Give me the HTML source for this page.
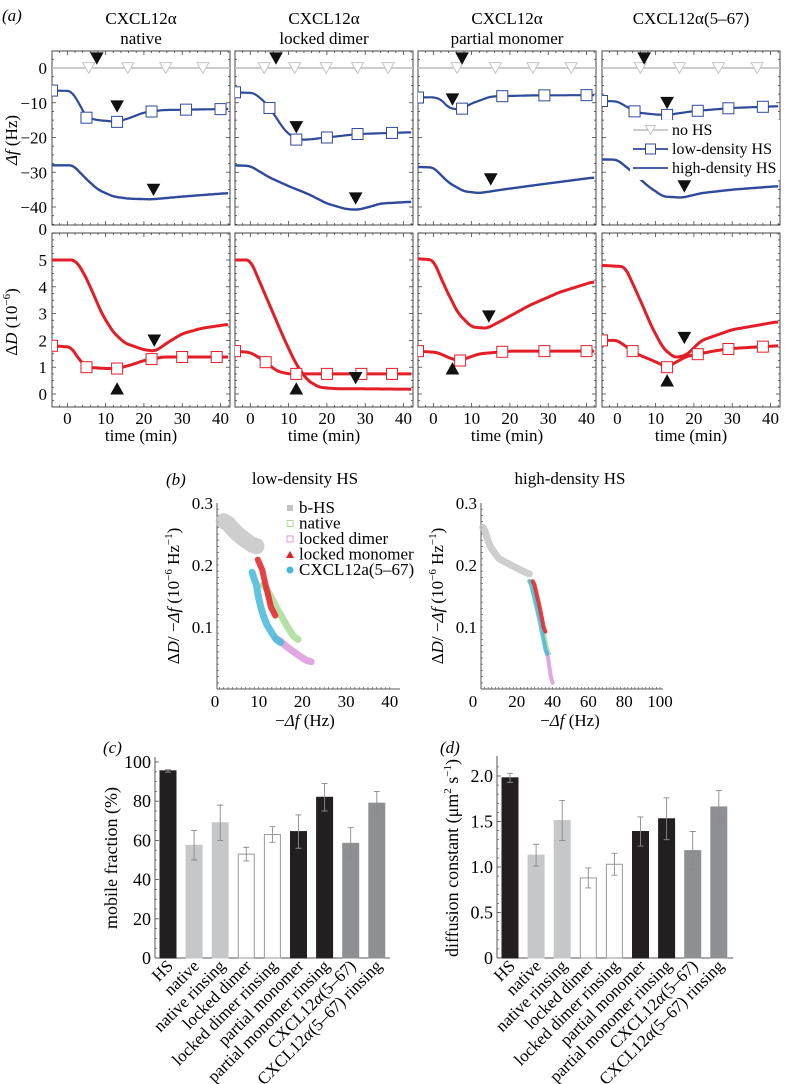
<!DOCTYPE html>
<html><head><meta charset="utf-8">
<style>
html,body{margin:0;padding:0;background:#fff;}
svg{display:block;font-family:"Liberation Serif",serif;}
</style></head>
<body>
<svg id="fig" width="786" height="1084" viewBox="0 0 786 1084" xmlns="http://www.w3.org/2000/svg"></svg>
<script>
// ---------- Panel (a) data ----------
const aTitles = [["CXCL12α","native"],["CXCL12α","locked dimer"],["CXCL12α","partial monomer"],["CXCL12α(5–67)",""]];
const aTimeTicks = [0,10,20,30,40];
const dfTicks = [0,-10,-20,-30,-40];
const dTicks = [0,1,2,3,4,5];
const noHSMarkT = [[5.6,15.8,25.7,35.4],[3.6,11.6,19.8,28,36],[6.2,16.2,26,36],[6,16.2,26.4,36.5]];
const noHSArrowT = [7.7,6.7,7.5,7];
const lowDF = [
 [[-4,-6.5],[1,-6.6],[3,-10],[5,-14.3],[8,-15],[13,-15.5],[16,-14.5],[20,-12.8],[25,-12.1],[30,-12],[42,-11.8]],
 [[-4,-7],[1,-7.2],[4,-10],[6,-13],[9,-18],[12,-20.6],[15,-20.6],[20,-20],[28,-19],[42,-18.5]],
 [[-4,-8.5],[0,-8.4],[2,-9],[4,-11.5],[7,-12],[10,-10.2],[15,-8.2],[25,-7.9],[42,-7.8]],
 [[-4,-9.5],[0,-9.6],[3,-11.5],[5,-12.8],[10,-13.4],[13,-13.5],[20,-12.4],[30,-11.5],[42,-11]]];
const lowDFMarkT = [[-4,5,13,22,31,40],[-4,5,12,20,28,37],[-4,7.5,18,29,40],[-4,4.5,13,21,29,38]];
const lowDFArrow = [[13,-11],[12,-17],[5,-9],[13,-10]];
const highDF = [
 [[-4,-28],[1.5,-28],[5,-32],[8,-35],[12,-37],[16,-37.6],[22,-37.8],[30,-37],[42,-36]],
 [[-4,-28],[0,-28.2],[5,-31.5],[10,-34],[15,-36.2],[20,-39],[25,-40.6],[28,-40.8],[31,-40],[34,-39],[42,-38.5]],
 [[-4,-28.5],[0,-28.6],[4,-33],[8,-35.5],[12,-36],[18,-35],[28,-33.5],[42,-31.5]],
 [[-4,-26.3],[0,-26.4],[4,-30],[8,-34],[12,-37],[17,-37.3],[22,-36],[30,-35],[42,-34]]];
const highDFArrow = [[22.5,-35],[27.5,-37.5],[15,-32],[17.5,-34]];
const highD = [
 [[-4,5],[2,5],[4,4.6],[6,4],[9,3],[12,2.3],[15,1.9],[20,1.65],[23,1.6],[26,1.9],[30,2.25],[35,2.45],[42,2.6]],
 [[-4,5],[0,5],[3,4],[6,3],[9,2],[12,1.1],[15,0.5],[18,0.25],[22,0.2],[42,0.18]],
 [[-4,5.05],[0,5],[3,4],[6.5,3],[10,2.5],[14,2.45],[18,2.75],[25,3.3],[33,3.8],[42,4.2]],
 [[-4,4.8],[2,4.75],[6,3.5],[9,2.5],[12,1.7],[15,1.35],[18,1.45],[22,2],[30,2.4],[42,2.7]]];
const lowD = [
 [[-4,1.8],[1,1.75],[3,1.3],[5,1.0],[10,0.95],[13,0.95],[17,1.1],[20,1.25],[25,1.38],[42,1.38]],
 [[-4,1.6],[0,1.55],[3,1.3],[7,0.85],[10,0.75],[42,0.75]],
 [[-4,1.6],[1,1.55],[5,1.3],[7,1.25],[12,1.5],[20,1.6],[42,1.6]],
 [[-4,2.0],[0,2.0],[5,1.5],[10,1.2],[13,1.0],[18,1.4],[25,1.6],[30,1.7],[42,1.8]]];
const lowDMarkT = [[-4,5,13,22,30,39],[-4,4,12,20,29,37],[-4,7,18,29,40],[-4,4,13,21,29,38]];
const dUpArrow = [[13,0.2],[12,0.2],[5,0.95],[13,0.5]];
const dDownArrow = [[22.7,2.0],[27.5,0.6],[14.5,2.9],[17.5,2.1]];
const legendA = ["no HS","low-density HS","high-density HS"];

// ---------- Panel (b) data ----------
const bLegend = ["b-HS","native","locked dimer","locked monomer","CXCL12a(5–67)"];
const bColors = ["#c2c2c2","#a8dc96","#dc98dc","#e41e26","#45b9d9"];
const bLeftX = [0,10,20,30,40];
const bRightX = [0,20,40,60,80,100];
const bYTicks = [0.1,0.2,0.3];
const bLeftSeries = [
 [[2,0.275],[4,0.258],[6,0.245],[8,0.235],[9.5,0.228]],
 [[11,0.175],[13,0.145],[15,0.12],[17,0.095],[19,0.075]],
 [[14,0.085],[16,0.07],[18,0.06],[20,0.05],[22,0.042]],
 [[9.8,0.228],[10.5,0.2],[11.5,0.17],[12.5,0.14],[13.8,0.105]],
 [[8.5,0.225],[9,0.18],[10,0.145],[11,0.115],[13,0.09],[15,0.07]]];
const bRightSeries = [
 [[1,0.265],[5,0.23],[10,0.21],[20,0.195],[27,0.185]],
 [[28,0.18],[33,0.12],[38,0.05]],
 [[36.5,0.07],[38.5,0.03],[40,0.0]],
 [[29,0.18],[33,0.13],[36,0.085]],
 [[27,0.18],[32,0.12],[37,0.05]]];
const bBandW = [[16,7,7,6,7],[7,4,4,4,4]];

// ---------- Panel (c)/(d) data ----------
const barCats = ["HS","native","native rinsing","locked dimer","locked dimer rinsing","partial monomer","partial monomer rinsing","CXCL12α(5–67)","CXCL12α(5–67) rinsing"];
const barFill = ["#231f20","#c6c7c9","#c6c7c9","#ffffff","#ffffff","#231f20","#231f20","#8e8f92","#8e8f92"];
const mobileVals = [95.5,57.5,69,53,63,64.5,82,58.5,79];
const mobileErr = [0.7,7.5,9,3.5,4,8.5,7,8,6];
const mobileTicks = [0,20,40,60,80,100];
const diffVals = [1.98,1.13,1.51,0.88,1.03,1.39,1.53,1.18,1.66];
const diffErr = [0.05,0.12,0.22,0.11,0.12,0.16,0.23,0.21,0.18];
const diffTicks = [0,0.5,1.0,1.5,2.0];
const diffTickLabels = ["0","0.5","1.0","1.5","2.0"];

// ---------- helpers ----------
const NS="http://www.w3.org/2000/svg";
const svg=document.getElementById('fig');
function mk(tag, attrs, parent){const e=document.createElementNS(NS,tag);for(const k in attrs)e.setAttribute(k,attrs[k]);(parent||svg).appendChild(e);return e;}
function txt(s, attrs, parent){const e=mk('text',attrs,parent);e.textContent=s;return e;}
function path(pts){return pts.map((p,i)=>(i?'L':'M')+p[0].toFixed(1)+' '+p[1].toFixed(1)).join(' ');}
function interp(series,t){for(let i=1;i<series.length;i++){if(t<=series[i][0]){const a=series[i-1],b=series[i];return a[1]+(b[1]-a[1])*(t-a[0])/(b[0]-a[0]);}}return series[series.length-1][1];}
function smooth(series){const out=[];const t0=series[0][0],t1=series[series.length-1][0];for(let t=t0;t<=t1+1e-6;t+=0.25){out.push([t,interp(series,t)]);}
 const o2=out.map((p,i)=>{let s=0,n=0;for(let j=i-4;j<=i+4;j++){if(j>=0&&j<out.length){s+=out[j][1];n++;}}return [p[0],s/n];});return o2;}

const BLUE="#2e4a9b", RED="#e41e26", GRAY="#c4c4c4";
const FS=17;

// ---------- Panel (a) ----------
const aLeft=[52,235,418,602], aW=178;
const topY0=51, topY1=225, botY0=233, botY1=407;
function xA(i,t){return aLeft[i]+(t+4)*3.83;}
function yTopF(v){return 68-v*3.475;}
function yBotF(v){return 394-v*26.8;}
{const e=txt("(a)",{x:2,y:21,'font-size':FS,'font-style':'italic'});
 
 }

function triDown(g,x,y,s,fill,stroke){return mk('polygon',{points:`${x-s},${y-s*0.9} ${x+s},${y-s*0.9} ${x},${y+s*0.9}`,fill:fill,stroke:stroke,'stroke-width':1},g);}
function triUp(g,x,y,s,fill,stroke){return mk('polygon',{points:`${x-s},${y+s*0.9} ${x+s},${y+s*0.9} ${x},${y-s*0.9}`,fill:fill,stroke:stroke,'stroke-width':1},g);}

for(let i=0;i<4;i++){
 const g=mk('g',{});
 
 
 const cx=aLeft[i]+aW/2;
 const t1=txt(aTitles[i][0],{x:cx,y:24,'text-anchor':'middle','font-size':FS},g);
 
 
 if(aTitles[i][1]){const t2=txt(aTitles[i][1],{x:cx,y:44,'text-anchor':'middle','font-size':FS},g);
  
  }
 const clipT=mk('clipPath',{id:'ct'+i},g);mk('rect',{x:aLeft[i],y:topY0,width:aW,height:topY1-topY0},clipT);
 const clipB=mk('clipPath',{id:'cb'+i},g);mk('rect',{x:aLeft[i],y:botY0,width:aW,height:botY1-botY0},clipB);
 for(const [y0,y1,nm] of [[topY0,topY1,'df-frame'],[botY0,botY1,'dd-frame']]){
  const fr=mk('rect',{x:aLeft[i],y:y0,width:aW,height:y1-y0,fill:'none',stroke:'#444','stroke-width':1},g);
  
  
  for(let t=-4;t<=42;t+=2){const x=xA(i,t);const L=(t%10===0)?4:2;
   mk('line',{x1:x,y1:y0,x2:x,y2:y0+L,stroke:'#444','stroke-width':0.8},g);
   mk('line',{x1:x,y1:y1,x2:x,y2:y1-L,stroke:'#444','stroke-width':0.8},g);}
 }
 for(let v=-45;v<=5;v+=2.5){const y=yTopF(v);if(y<topY0||y>topY1)continue;const L=(v%10===0)?4:2;
  mk('line',{x1:aLeft[i],y1:y,x2:aLeft[i]+L,y2:y,stroke:'#444','stroke-width':0.8},g);
  mk('line',{x1:aLeft[i]+aW,y1:y,x2:aLeft[i]+aW-L,y2:y,stroke:'#444','stroke-width':0.8},g);}
 for(let v=-0.5;v<=6;v+=0.25){const y=yBotF(v);if(y<botY0||y>botY1)continue;const L=(Math.abs(v-Math.round(v))<1e-6)?4:2;
  mk('line',{x1:aLeft[i],y1:y,x2:aLeft[i]+L,y2:y,stroke:'#444','stroke-width':0.8},g);
  mk('line',{x1:aLeft[i]+aW,y1:y,x2:aLeft[i]+aW-L,y2:y,stroke:'#444','stroke-width':0.8},g);}
 aTimeTicks.forEach(t=>{const e=txt(String(t),{x:xA(i,t),y:424,'text-anchor':'middle','font-size':FS},g);
  
  });
 const xl=txt("time (min)",{x:cx,y:441,'text-anchor':'middle','font-size':FS},g);
 
 

 const gt=mk('g',{'clip-path':`url(#ct${i})`},g);
 const noHS=mk('line',{x1:aLeft[i],y1:yTopF(0),x2:aLeft[i]+aW,y2:yTopF(0),stroke:GRAY,'stroke-width':1.8},gt);
 
 
 noHSMarkT[i].forEach(t=>{const m=triDown(gt,xA(i,t),yTopF(0),6,'#fff',GRAY);
  
  });
 const lp=mk('path',{d:path(smooth(lowDF[i]).map(p=>[xA(i,p[0]),yTopF(p[1])])),fill:'none',stroke:BLUE,'stroke-width':2.2,'stroke-linejoin':'round'},gt);
 
 
 lowDFMarkT[i].forEach(t=>{const m=mk('rect',{x:xA(i,t)-5.5,y:yTopF(interp(lowDF[i],t))-5.5,width:11,height:11,fill:'#fff',stroke:BLUE,'stroke-width':1},gt);
  
  });
 const hp=mk('path',{d:path(smooth(highDF[i]).map(p=>[xA(i,p[0]),yTopF(p[1])])),fill:'none',stroke:BLUE,'stroke-width':2.4,'stroke-linejoin':'round'},gt);
 
 
 let ar=triDown(g,xA(i,noHSArrowT[i]),yTopF(2.8),6,'#111','#111');
 
 
 ar=triDown(g,xA(i,lowDFArrow[i][0]),yTopF(lowDFArrow[i][1]),6,'#111','#111');
 
 
 ar=triDown(g,xA(i,highDFArrow[i][0]),yTopF(highDFArrow[i][1]),6,'#111','#111');
 
 

 const gb=mk('g',{'clip-path':`url(#cb${i})`},g);
 const hd=mk('path',{d:path(smooth(highD[i]).map(p=>[xA(i,p[0]),yBotF(p[1])])),fill:'none',stroke:RED,'stroke-width':3,'stroke-linejoin':'round'},gb);
 
 
 const ld=mk('path',{d:path(smooth(lowD[i]).map(p=>[xA(i,p[0]),yBotF(p[1])])),fill:'none',stroke:RED,'stroke-width':3,'stroke-linejoin':'round'},gb);
 
 
 lowDMarkT[i].forEach(t=>{const m=mk('rect',{x:xA(i,t)-5.5,y:yBotF(interp(lowD[i],t))-5.5,width:11,height:11,fill:'#fff',stroke:RED,'stroke-width':1},gb);
  
  });
 ar=triUp(g,xA(i,dUpArrow[i][0]),yBotF(dUpArrow[i][1]),6,'#111','#111');
 
 
 ar=triDown(g,xA(i,dDownArrow[i][0]),yBotF(dDownArrow[i][1]),6,'#111','#111');
 
 
}
dfTicks.forEach(v=>{const e=txt(v===0?"0":"−"+Math.abs(v),{x:47,y:yTopF(v)+6,'text-anchor':'end','font-size':FS});
 
 });
dTicks.forEach(v=>{const e=txt(String(v),{x:47,y:yBotF(v)+6,'text-anchor':'end','font-size':FS});
 
 });
{const e=txt("0",{x:47,y:235,'text-anchor':'end','font-size':FS});
 
 }
{const e=txt("",{x:0,y:0,'font-size':FS,transform:'translate(17,140) rotate(-90)','text-anchor':'middle'});
 e.innerHTML='<tspan font-style="italic">Δf</tspan> (Hz)';
 
 }
{const e=txt("",{x:0,y:0,'font-size':FS,transform:'translate(17,322) rotate(-90)','text-anchor':'middle'});
 e.innerHTML='Δ<tspan font-style="italic">D</tspan> (10<tspan dy="-7" font-size="11">−6</tspan><tspan dy="7">)</tspan>';
 
 }
{const g=mk('g',{});
 
 
 mk('rect',{x:630,y:120,width:150,height:60,fill:'#fff'},g);
 const ys=[130,149,168];
 legendA.forEach((s,k)=>{const y=ys[k];
  const col=k===0?GRAY:BLUE;
  mk('line',{x1:633,y1:y,x2:668,y2:y,stroke:col,'stroke-width':1.8},g);
  if(k===0)triDown(g,650.5,y,5,'#fff',GRAY);
  if(k===1)mk('rect',{x:645.5,y:y-5,width:10,height:10,fill:'#fff',stroke:BLUE},g);
  const t=txt(s,{x:672,y:y+5,'font-size':FS-1},g);
  
  });}

// ---------- Panel (b) ----------
{
 const pl=txt("(b)",{x:166,y:485,'font-size':FS,'font-style':'italic'});
 
 
 const yB=v=>689-v*620;
 const xL=v=>215+v*4.37, xR=v=>481+v*1.79;
 const panels=[[xL,217,400,bLeftX,bLeftSeries,"low-density HS",305,0],[xR,481,663,bRightX,bRightSeries,"high-density HS",570,1]];
 panels.forEach(([xf,ax0,ax1,xt,series,title,cx,pi])=>{
  const g=mk('g',{});
  
  
  const ti=txt(title,{x:cx,y:484,'text-anchor':'middle','font-size':FS},g);
  
  
  mk('line',{x1:ax0,y1:503,x2:ax0,y2:689,stroke:'#555','stroke-width':1},g);
  mk('line',{x1:ax0,y1:689,x2:ax1,y2:689,stroke:'#555','stroke-width':1},g);
  for(let v=0.01;v<=0.3;v+=0.01){mk('line',{x1:ax0,y1:yB(v),x2:ax0+2,y2:yB(v),stroke:'#555','stroke-width':0.7},g);}
  const step=pi?2:1;
  for(let v=xt[0]+step;v<=xt[xt.length-1]+step*0.5;v+=step){const x=xf(v);if(x>ax1)break;mk('line',{x1:x,y1:689,x2:x,y2:687,stroke:'#555','stroke-width':0.7},g);}
  bYTicks.forEach(v=>{const e=txt(v.toFixed(1),{x:ax0-4,y:yB(v)+6,'text-anchor':'end','font-size':FS},g);
   
   });
  xt.forEach(v=>{const e=txt(String(v),{x:pi&&v===0?ax0-8:xf(v),y:707,'text-anchor':'middle','font-size':FS},g);
   
   });
  const xtl=txt("",{x:cx,y:726,'text-anchor':'middle','font-size':FS},g);
  xtl.innerHTML='−<tspan font-style="italic">Δf</tspan> (Hz)';
  
  
  const ytl=txt("",{x:0,y:0,'font-size':FS,'text-anchor':'middle',transform:`translate(${ax0-38},596) rotate(-90)`},g);
  ytl.innerHTML='Δ<tspan font-style="italic">D</tspan>/ −<tspan font-style="italic">Δf</tspan> (10<tspan dy="-7" font-size="11">−6</tspan><tspan dy="7"> Hz</tspan><tspan dy="-7" font-size="11">−1</tspan><tspan dy="7">)</tspan>';
  
  
  const order=[0,1,2,4,3];
  order.forEach(k=>{const pts=smooth(series[k]).map(p=>[xf(p[0]),yB(p[1])]);
   const s=mk('path',{d:path(pts),fill:'none',stroke:bColors[k],'stroke-width':bBandW[pi][k],'stroke-linecap':'round','stroke-linejoin':'round',opacity:k===0?0.8:0.85},g);
   
   });
 });
 const lg=mk('g',{});
 
 
 bLegend.forEach((s,k)=>{const y=508+k*15.5;const x=290;
  if(k===0)mk('rect',{x:x-3,y:y-3,width:6,height:6,fill:bColors[0]},lg);
  if(k===1||k===2)mk('rect',{x:x-3,y:y-3,width:6,height:6,fill:'none',stroke:bColors[k]},lg);
  if(k===3)mk('polygon',{points:`${x-4},${y+3.5} ${x+4},${y+3.5} ${x},${y-3.5}`,fill:bColors[3]},lg);
  if(k===4)mk('circle',{cx:x,cy:y,r:3.5,fill:bColors[4]},lg);
  const t=txt(s,{x:299,y:y+5,'font-size':FS},lg);
  
  });
}

// ---------- Panels (c),(d) ----------
function barPanel(opts){
 const g=mk('g',{});
 
 
 txt(opts.label,{x:opts.lx,y:753,'font-size':FS,'font-style':'italic'},g);
 const y=v=>958-v*opts.scale;
 const x=k=>opts.x0+k*26.1;
 mk('line',{x1:opts.ax,y1:opts.top,x2:opts.ax,y2:958,stroke:'#555','stroke-width':1},g);
 mk('line',{x1:opts.ax,y1:958,x2:opts.right,y2:958,stroke:'#555','stroke-width':1},g);
 for(let v=0;v<=opts.max;v+=opts.minor){mk('line',{x1:opts.ax,y1:y(v),x2:opts.ax+2,y2:y(v),stroke:'#555','stroke-width':0.7},g);}
 opts.ticks.forEach((v,k)=>{const e=txt(opts.tickLabels[k],{x:opts.ax-4,y:y(v)+6,'text-anchor':'end','font-size':18},g);
  
  
  mk('line',{x1:opts.ax,y1:y(v),x2:opts.ax+4,y2:y(v),stroke:'#555','stroke-width':0.8},g);});
 const yt=txt("",{x:0,y:0,'font-size':18,'text-anchor':'middle',transform:`translate(${opts.ytx},858) rotate(-90)`},g);
 yt.innerHTML=opts.ytitle;
 
 
 opts.vals.forEach((v,k)=>{
  const b=mk('rect',{x:x(k)-8,y:y(v),width:16,height:958-y(v),fill:barFill[k],stroke:barFill[k]==='#ffffff'?'#9a9a9a':barFill[k],'stroke-width':1},g);
  
  
  const e=opts.errs[k];
  const eg=mk('path',{d:`M${x(k)} ${y(v+e)} L${x(k)} ${y(v-e)} M${x(k)-3} ${y(v+e)} L${x(k)+3} ${y(v+e)} M${x(k)-3} ${y(v-e)} L${x(k)+3} ${y(v-e)}`,stroke:'#8a8a8a','stroke-width':0.9,fill:'none'},g);
  
  
  const lab=txt("",{x:0,y:0,'font-size':17,'text-anchor':'end',transform:`translate(${x(k)+6},967) rotate(-45)`},g);
  lab.innerHTML=barCats[k].replace(/α/g,'<tspan font-style="italic">α</tspan>');
  
  
 });
}
barPanel({name:'panel-c-mobile-fraction',label:'(c)',lx:103,ax:155,top:757,right:390,x0:168,scale:1.96,max:100,minor:5,ticks:mobileTicks,tickLabels:mobileTicks.map(String),vals:mobileVals,errs:mobileErr,ytx:117,ytitle:'mobile fraction (%)'});
barPanel({name:'panel-d-diffusion-constant',label:'(d)',lx:440,ax:497,top:756,right:733,x0:510,scale:91,max:2.2,minor:0.1,ticks:diffTicks,tickLabels:diffTickLabels,vals:diffVals,errs:diffErr,ytx:458,ytitle:'diffusion constant (μm<tspan dy="-7" font-size="11">2</tspan><tspan dy="7"> s</tspan><tspan dy="-7" font-size="11">−1</tspan><tspan dy="7">)</tspan>'});
</script>
</body></html>
